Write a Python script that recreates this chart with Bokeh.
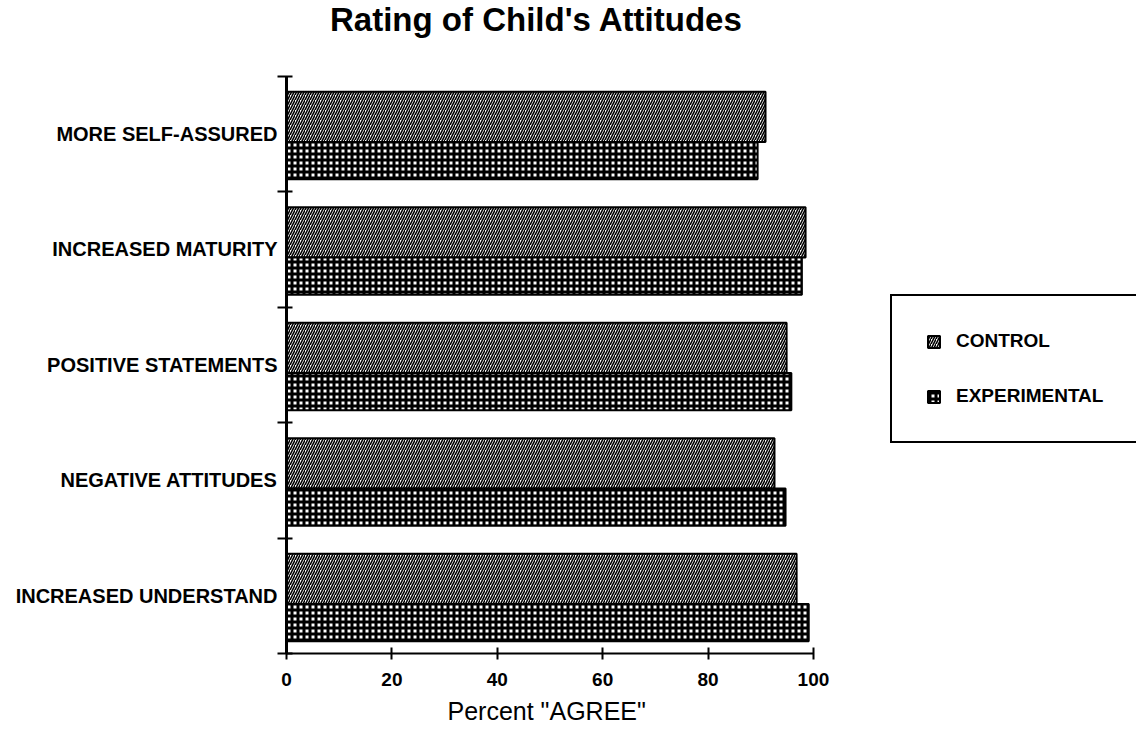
from bokeh.plotting import figure
from bokeh.models import Range1d, FixedTicker, Legend, LegendItem, Title, Label, ColumnDataSource
from bokeh.embed import file_html
from bokeh.resources import INLINE

categories = ["MORE SELF-ASSURED", "INCREASED MATURITY", "POSITIVE STATEMENTS",
              "NEGATIVE ATTITUDES", "INCREASED UNDERSTAND"]
control = [90.9, 98.5, 94.9, 92.6, 96.8]
experimental = [89.4, 97.8, 95.8, 94.7, 99.1]
x_ticks = [0, 20, 40, 60, 80, 100]
series_names = ["CONTROL", "EXPERIMENTAL"]
title_text = "Rating of Child's Attitudes"
x_label = 'Percent "AGREE"'

FONT = "Liberation Sans"
n = len(categories)
centers = [float(n - 0.5 - i) for i in range(n)]

src = ColumnDataSource(dict(
    cat=categories,
    control=control,
    experimental=experimental,
    yc=[c + 0.1455 for c in centers],
    ye=[c - 0.233 for c in centers],
))

# frame spans the whole top of the canvas; the axes are bounded to the data span
p = figure(width=1136, height=730,
           x_range=Range1d(0, 161.3), y_range=Range1d(0, n * 657 / 581),
           output_backend="svg", toolbar_location=None,
           min_border_left=286, min_border_right=0,
           min_border_top=0, min_border_bottom=73)

r1 = p.hbar(y="yc", left=0, right="control", height=0.435, source=src,
            fill_color="white", line_color="black", line_width=2,
            hatch_pattern="/", hatch_color="black", hatch_scale=5, hatch_weight=1.6)
r2 = p.hbar(y="ye", left=0, right="experimental", height=0.322, source=src,
            fill_color="white", line_color="black", line_width=2,
            hatch_pattern="+", hatch_color="black", hatch_scale=6, hatch_weight=3)

p.xgrid.visible = False
p.ygrid.visible = False
p.outline_line_color = None
p.background_fill_color = "white"
p.border_fill_color = "white"

# x axis
xa = p.xaxis[0]
xa.bounds = (0, 100)
xa.ticker = FixedTicker(ticks=x_ticks, minor_ticks=[])
xa.axis_line_color = "black"
xa.axis_line_width = 2
xa.major_tick_in = 6
xa.major_tick_out = 6
xa.major_tick_line_width = 2
xa.major_tick_line_color = "black"
xa.minor_tick_line_color = None
xa.major_label_text_font = FONT
xa.major_label_text_font_style = "bold"
xa.major_label_text_font_size = "19px"
xa.major_label_text_color = "black"
xa.major_label_standoff = 13

# x axis label, centred under the 0-100 span
xlab = Title(text=x_label, align="left", offset=161, standoff=12,
             text_font=FONT, text_font_style="normal", text_font_size="25px",
             text_color="black")
p.add_layout(xlab, "below")

# y axis
ya = p.yaxis[0]
ya.bounds = (0, n)
ya.ticker = FixedTicker(ticks=centers, minor_ticks=[float(v) for v in range(n + 1)])
ya.major_label_overrides = {c: cat for c, cat in zip(centers, categories)}
ya.axis_line_color = "black"
ya.axis_line_width = 3
ya.major_tick_line_color = None
ya.major_tick_out = 0
ya.major_tick_in = 0
ya.minor_tick_line_color = "black"
ya.minor_tick_line_width = 2
ya.minor_tick_out = 9
ya.minor_tick_in = 6
ya.major_label_text_font = FONT
ya.major_label_text_font_style = "bold"
ya.major_label_text_font_size = "20px"
ya.major_label_text_color = "black"
ya.major_label_standoff = 0

# title
title = Label(x=250, y=634, x_units="screen", y_units="screen", text=title_text,
              text_align="center", text_baseline="middle",
              text_font=FONT, text_font_style="bold", text_font_size="33px",
              text_color="black")
p.add_layout(title)

legend = Legend(items=[LegendItem(label=series_names[0], renderers=[r1]),
                       LegendItem(label=series_names[1], renderers=[r2])],
                location=(604, 210))
legend.border_line_color = "black"
legend.border_line_alpha = 1
legend.border_line_width = 2.5
legend.background_fill_color = "white"
legend.background_fill_alpha = 1
legend.padding = 34
legend.spacing = 33
legend.glyph_width = 15
legend.glyph_height = 15
legend.label_standoff = 15
legend.label_width = 260
legend.label_text_font = FONT
legend.label_text_font_style = "bold"
legend.label_text_font_size = "19px"
legend.label_text_color = "black"
p.add_layout(legend)

open("out.html", "w").write(file_html(p, INLINE))
